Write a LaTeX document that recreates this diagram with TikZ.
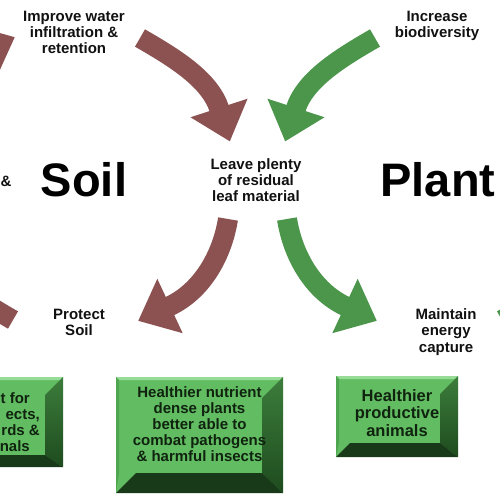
\documentclass[tikz,border=0pt]{standalone}
\usepackage{fontspec}
\setmainfont{Liberation Sans}
\usetikzlibrary{calc}
\definecolor{brownarr}{RGB}{140,82,82}
\definecolor{greenarr}{RGB}{76,150,76}
\definecolor{boxface}{RGB}{98,188,98}
\definecolor{boxtop}{RGB}{150,220,150}
\definecolor{boxleft}{RGB}{80,165,80}
\definecolor{boxrightA}{RGB}{60,125,60}
\definecolor{boxrightB}{RGB}{30,75,30}
\definecolor{boxbottom}{RGB}{25,58,25}
\definecolor{boxtext}{RGB}{15,35,15}
\definecolor{lbltext}{RGB}{17,17,17}

% #1 name, #2 colour, #3 start point, #4 start angle, #5 head base, #6 end angle, #7,#8 control lengths
\newcommand\barrow[8]{%
  \coordinate (#1s) at #3;
  \coordinate (#1e) at #5;
  \draw[#2, line width=20pt] (#1s) .. controls ($(#1s)+(#4:#7)$) and ($(#1e)+(#6+180:#8)$) .. ($(#1e)+(#6:1)$);
  \fill[#2] ($(#1e)+(#6+90:30)$) -- ($(#1e)+(#6:35)$) -- ($(#1e)+(#6-90:30)$) -- cycle;
}
% #1 name, #2 x0, #3 y0, #4 x1, #5 y1, #6 right bevel, #7 bottom bevel
\newcommand\bevelbox[7]{%
  \path (#2,#3) coordinate (#1nw) (#4,#5) coordinate (#1se);
  \fill[boxface] (#2,#3) rectangle (#4,#5);
  \fill[boxtop] (#2,#3) -- (#4,#3) -- ({#4-3},{#3+3}) -- ({#2+3},{#3+3}) -- cycle;
  \fill[boxleft] (#2,#3) -- ({#2+3},{#3+3}) -- ({#2+3},{#5-#7}) -- (#2,#5) -- cycle;
  \shade[top color=boxrightA, bottom color=boxrightB] (#4,#3) -- (#4,#5) -- ({#4-#6},{#5-#7}) -- ({#4-#6},{#3+#6}) -- cycle;
  \fill[boxbottom] (#2,#5) -- (#4,#5) -- ({#4-#6},{#5-#7}) -- ({#2+#7},{#5-#7}) -- cycle;
}

\begin{document}
\begin{tikzpicture}[x=1pt,y=-1pt,
  lbl/.style={font=\fontsize{15}{16}\selectfont\bfseries, align=center, inner sep=0pt, text=lbltext},
  big/.style={font=\fontsize{47}{50}\selectfont\bfseries, inner sep=0pt, text=black},
  boxtxt/.style={font=\fontsize{15}{16}\selectfont\bfseries, align=center, inner sep=0pt, text=boxtext}]
\useasboundingbox (0,0) rectangle (500,500);
\fill[white] (0,0) rectangle (500,500);
\clip (0,0) rectangle (500,500);

% Soil cycle (brown)
\barrow{a1}{brownarr}{(140,38)}{30}{(219,108)}{72}{40}{30}
\barrow{a2}{brownarr}{(228,219)}{99}{(170,306)}{155}{36}{36}
\barrow{a3}{brownarr}{(13,320)}{210}{(-66,250)}{252}{40}{30}
\barrow{a4}{brownarr}{(-75,139)}{279}{(-17,52)}{335}{36}{36}
% Plant cycle (green)
\barrow{g1}{greenarr}{(375,38)}{150}{(296,108)}{108}{40}{30}
\barrow{g2}{greenarr}{(287,219)}{81}{(345,306)}{25}{36}{36}
\barrow{g3}{greenarr}{(502,320)}{-30}{(581,250)}{-72}{40}{30}
\barrow{g4}{greenarr}{(590,139)}{-99}{(532,52)}{-155}{36}{36}

% boxes
\bevelbox{b1}{-100}{377}{63}{467}{18}{12}
\bevelbox{b2}{116}{377}{283}{493}{21}{20}
\bevelbox{b3}{336}{376}{458}{457}{18}{14}

\node[boxtxt, anchor=east, align=right] (t1) at (40,422.5)
  {t for\hspace*{10pt}\\ects,\hspace*{4pt}\\rds \&\\nals\hspace*{10pt}};
\node[boxtxt] (t2) at (199.5,424)
  {Healthier nutrient\\dense plants\\better able to\\combat pathogens\\\& harmful insects};
\node[boxtxt, font=\fontsize{16.5}{17.5}\selectfont\bfseries] (t3) at (397,413)
  {Healthier\\productive\\animals};

% labels
\node[lbl] (water) at (74,32) {Improve water\\infiltration \&\\retention};
\node[lbl] (biod) at (437,26) {Increase\\biodiversity};
\node[lbl] (leave) at (256,180) {Leave plenty\\of residual\\leaf material};
\node[lbl] (protect) at (79,322) {Protect\\Soil};
\node[lbl, font=\fontsize{15}{16.5}\selectfont\bfseries] (energy) at (446,332) {Maintain\\energy\\capture};
\node[lbl, anchor=west] (amp) at (0.5,181.5) {\&};
\node[big] (soil) at (84,180) {Soil};
\node[big] (plant) at (438,180) {Plant};
\end{tikzpicture}
\end{document}
